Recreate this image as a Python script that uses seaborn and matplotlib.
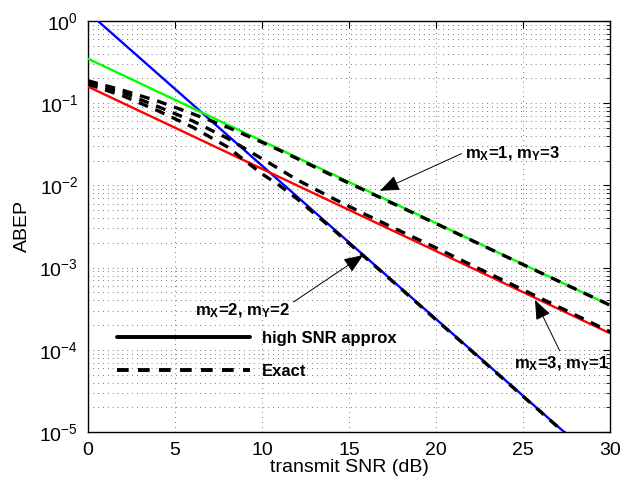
import numpy as np
import pandas as pd
import matplotlib
matplotlib.use("Agg")
import matplotlib.pyplot as plt
import seaborn as sns
from matplotlib.lines import Line2D
from matplotlib.ticker import LogLocator, NullFormatter

# ---------------- data ----------------
snr_approx = [0, 30]
approx_m13 = [0.3475, 3.475e-4]      # green, m_X=1, m_Y=3
approx_m31 = [0.159, 1.59e-4]        # red,   m_X=3, m_Y=1
approx_m22 = [1.277, 3.22e-6]        # blue,  m_X=2, m_Y=2

snr_exact = [0, 2, 4, 6, 8, 10, 11, 12, 14, 16, 18, 20, 22, 25, 28, 30]
exact_m13 = [0.1875, 0.1435, 0.1062, 0.0745, 0.0513, 0.0335, 0.0268, 0.0213,
             0.01334, 0.00851, 0.00541, 0.00343, 0.00217, 0.00109, 5.50e-4, 3.49e-4]
exact_m31 = [0.177, 0.1349, 0.0912, 0.0610, 0.0376, 0.0211, 0.0158, 0.01175,
             0.00708, 0.00437, 0.00275, 0.00174, 0.001084, 5.37e-4, 2.66e-4, 1.66e-4]
exact_m22 = [0.170, 0.123, 0.0813, 0.0513, 0.0295, 0.0138, 0.0100, 0.00692,
             0.00302, 0.00129, 5.50e-4, 2.32e-4, 9.89e-5, 2.72e-5, 7.5e-6, 3.24e-6]

legend_labels = ["high SNR approx", "Exact"]
xticks = [0, 5, 10, 15, 20, 25, 30]

# ---------------- style ----------------
sns.set_style("white")
plt.rcParams["font.family"] = ["Liberation Sans", "DejaVu Sans"]
plt.rcParams["mathtext.fontset"] = "custom"
plt.rcParams["mathtext.rm"] = "Liberation Sans"
plt.rcParams["mathtext.it"] = "Liberation Sans"
plt.rcParams["mathtext.bf"] = "Liberation Sans:bold"
plt.rcParams["text.color"] = "black"
plt.rcParams["axes.labelcolor"] = "black"
plt.rcParams["xtick.color"] = "black"
plt.rcParams["ytick.color"] = "black"

fig = plt.figure(figsize=(6.36, 4.83), dpi=100)
ax = fig.add_axes([88/636, 1-432/483, 522/636, 411/483])

df_a = pd.DataFrame({"snr": snr_approx * 3,
                     "p": approx_m22 + approx_m13 + approx_m31,
                     "case": ["m22"] * 2 + ["m13"] * 2 + ["m31"] * 2})
df_e = pd.DataFrame({"snr": snr_exact * 3,
                     "p": exact_m13 + exact_m31 + exact_m22,
                     "case": ["m13"] * len(snr_exact) + ["m31"] * len(snr_exact) + ["m22"] * len(snr_exact)})

sns.lineplot(data=df_a, x="snr", y="p", hue="case",
             palette={"m22": "#0000ff", "m13": "#00ff00", "m31": "#ff0000"},
             lw=1.7, legend=False, ax=ax, zorder=3)
sns.lineplot(data=df_e, x="snr", y="p", units="case", estimator=None,
             color="black", lw=2.4, dashes=False, legend=False, ax=ax, zorder=4)
for ln in ax.lines[3:]:
    ln.set_dashes((3.0, 2.4))

ax.set_yscale("log")
ax.set_xlim(0, 30)
ax.set_ylim(1e-5, 1)
ax.set_xticks(xticks)
ax.yaxis.set_major_locator(LogLocator(base=10, numticks=10))
ax.yaxis.set_minor_locator(LogLocator(base=10, subs=np.arange(2, 10), numticks=100))
ax.yaxis.set_minor_formatter(NullFormatter())

ax.tick_params(axis="both", which="both", direction="in", top=True, right=True,
               labelsize=14, colors="black", labelcolor="black")
ax.tick_params(axis="x", which="major", pad=7)
ax.tick_params(axis="y", which="major", pad=7)
ax.tick_params(which="major", length=5, width=0.8)
ax.tick_params(which="minor", length=3, width=0.6)
for s in ax.spines.values():
    s.set_visible(True)
    s.set_color("black")
    s.set_linewidth(1.0)

ax.grid(True, which="major", axis="both", color="black", lw=0.5, ls=(0, (1, 6)))
ax.grid(True, which="minor", axis="y", color="black", lw=0.5, ls=(0, (1, 6)))

ax.set_xlabel("transmit SNR (dB)", fontsize=14, labelpad=0, color="black")
ax.set_ylabel("ABEP", fontsize=14, labelpad=6, color="black")

# annotations
ap = dict(arrowstyle="-|>,head_length=1.0,head_width=0.4", color="black", lw=0.7,
          shrinkA=0, shrinkB=0)
ax.annotate(r"m$_\mathbf{X}$=1, m$_\mathbf{Y}$=3", xy=(16.78, 8.6e-3),
            xytext=(21.65, 0.0241), ha="left", va="center", fontsize=12,
            fontweight="bold", color="black", arrowprops=dict(ap, relpos=(0, 0.6)), zorder=6)
ax.annotate(r"m$_\mathbf{X}$=2, m$_\mathbf{Y}$=2", xy=(15.82, 1.42e-3),
            xytext=(8.9, 3.0e-4), ha="center", va="center", fontsize=12,
            fontweight="bold", color="black", arrowprops=dict(ap, relpos=(1.0, 0.85)), zorder=6)
ax.annotate(r"m$_\mathbf{X}$=3, m$_\mathbf{Y}$=1", xy=(25.69, 4.03e-4),
            xytext=(27.2, 6.85e-5), ha="center", va="center", fontsize=12,
            fontweight="bold", color="black", arrowprops=dict(ap, relpos=(0.5, 1.0)), zorder=6,
            annotation_clip=False)

handles = [Line2D([], [], color="black", lw=2.8),
           Line2D([], [], color="black", lw=2.8, dashes=(3.0, 2.4))]
leg = ax.legend(handles, legend_labels, loc="lower left", bbox_to_anchor=(0.055, 0.13),
                frameon=False, handlelength=8.0, handletextpad=0.7, labelspacing=1.05,
                borderpad=0, borderaxespad=0, prop={"size": 12, "weight": "bold"},
                labelcolor="black")

fig.savefig("out.png", dpi=100)
